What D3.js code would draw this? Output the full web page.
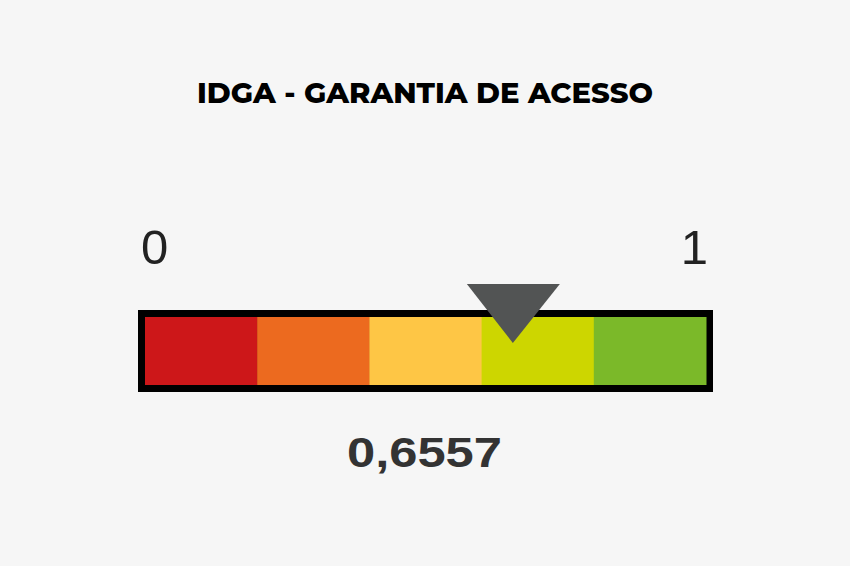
<!DOCTYPE html>
<html><head><meta charset="utf-8">
<script src="https://cdn.jsdelivr.net/npm/d3@7"></script>
<style>html,body{margin:0;padding:0;background:#f6f6f6;}svg{display:block;}</style>
</head><body>
<svg id="chart" width="850" height="566"></svg>
<script>
const title = "IDGA - GARANTIA DE ACESSO";
const bands = [0, 0.2, 0.4, 0.6, 0.8];
const bandColors = ["#cd1719", "#ec6a1f", "#fec645", "#cdd600", "#7bb929"];
const domainLabels = ["0", "1"];
const value = 0.6557;
const valueLabel = "0,6557";

const svg = d3.select("#chart");
svg.append("rect").attr("width",850).attr("height",566).attr("fill","#f6f6f6");

const x = d3.scaleLinear().domain([0,1]).range([145, 706]);
const barTop = 317, barH = 68, bw = 7;

svg.append("text").attr("x",425).attr("y",103).attr("text-anchor","middle")
  .attr("font-family","Montserrat, Inter, 'Open Sans', sans-serif").attr("font-weight",800)
  .attr("font-size",28).attr("fill","#000").attr("textLength",456).attr("lengthAdjust","spacingAndGlyphs")
  .text(title);

// border
svg.append("rect").attr("x",x(0)-bw).attr("y",barTop-bw).attr("width",x(1)-x(0)+2*bw).attr("height",barH+2*bw).attr("fill","#000");

svg.selectAll("rect.band").data(bands).join("rect").attr("class","band")
  .attr("x",d=>x(d)).attr("y",barTop).attr("width",d=>x(d+0.2)-x(d)+0.5).attr("height",barH)
  .attr("fill",(d,i)=>bandColors[i]);

// marker
const mx = x(value);
svg.append("path").attr("d",`M${mx-46},284 L${mx+47},284 L${mx},343 Z`).attr("fill","#525454");

svg.append("text").attr("x",x(0)-4).attr("y",264).attr("font-family","'Liberation Sans', Arial, sans-serif")
  .attr("font-size",49).attr("fill","#222").text(domainLabels[0]);
svg.append("text").attr("x",x(1)+2).attr("y",264).attr("text-anchor","end").attr("font-family","'Liberation Sans', Arial, sans-serif")
  .attr("font-size",49).attr("fill","#222").text(domainLabels[1]);

svg.append("text").attr("x",424.5).attr("y",467).attr("text-anchor","middle").attr("font-family","'Liberation Sans', Arial, sans-serif")
  .attr("font-weight","bold").attr("font-size",43).attr("fill","#333")
  .attr("textLength",155).attr("lengthAdjust","spacingAndGlyphs").text(valueLabel);
</script>
</body></html>
